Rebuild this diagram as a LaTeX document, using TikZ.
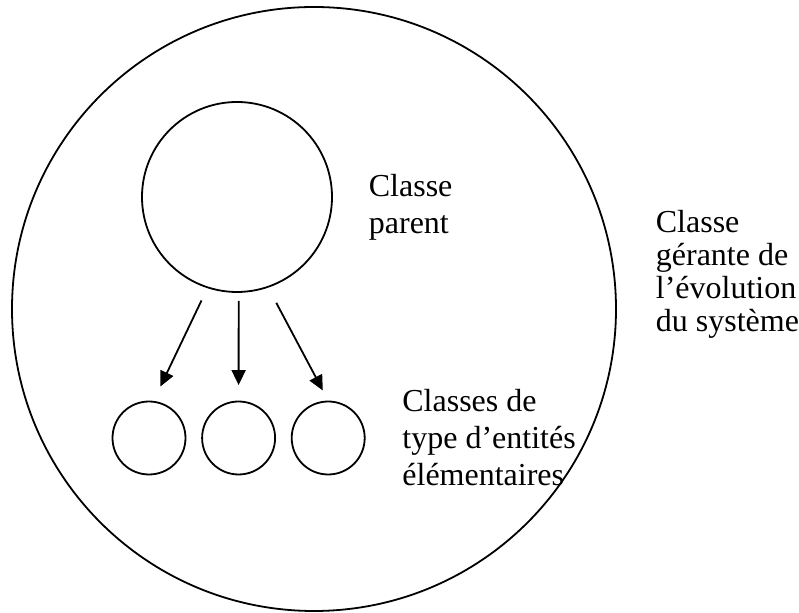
\documentclass[tikz,border=0pt]{standalone}
\usepackage{fontspec}
\setmainfont{Liberation Serif}
\usetikzlibrary{arrows.meta, positioning}

\begin{document}
\begin{tikzpicture}[x=0.5pt, y=-0.5pt, ->, >={Triangle[length=7.5pt, width=7pt]}, line width=0.9pt]
    \tikzstyle{rond} = [draw, circle, inner sep=0pt]
    \tikzstyle{texte} = [anchor=base west, inner sep=0pt, align=left, font=\fontsize{16}{18.5}\selectfont]
    \useasboundingbox (0,0) rectangle (799,613);
    \node [rond, minimum size=302pt] at (314,309) (systeme) {};
    \node [rond, minimum size=95pt] at (237,197) (parent) {};
    \node [rond, minimum size=36.5pt] at (149,438) (fille1) {};
    \node [rond, minimum size=36.5pt, right =7.4pt of fille1] (fille2) {};
    \node [rond, minimum size=36.5pt, right =7.4pt of fille2] (fille3) {};
    % base = last line
    \node [texte] at (368,234) (nomparent) {Classe\\parent};
    \node [texte] at (401.5,485.5) (nomfilles) {Classes de\\type d’entités\\élémentaires};
    \node [texte, font=\fontsize{16}{16.5}\selectfont] at (655,332) (nomsysteme) {Classe\\gérante de\\l’évolution\\du système};
    \draw [shorten <=6.8pt, shorten >=8pt] (parent.252) -- (fille1.83);
    \draw [shorten <=4pt, shorten >=7.75pt] (parent.271) -- (fille2.north);
    \draw [shorten <=8.6pt, shorten >=5.75pt] (parent.289) -- (fille3.north);
\end{tikzpicture}
\end{document}
